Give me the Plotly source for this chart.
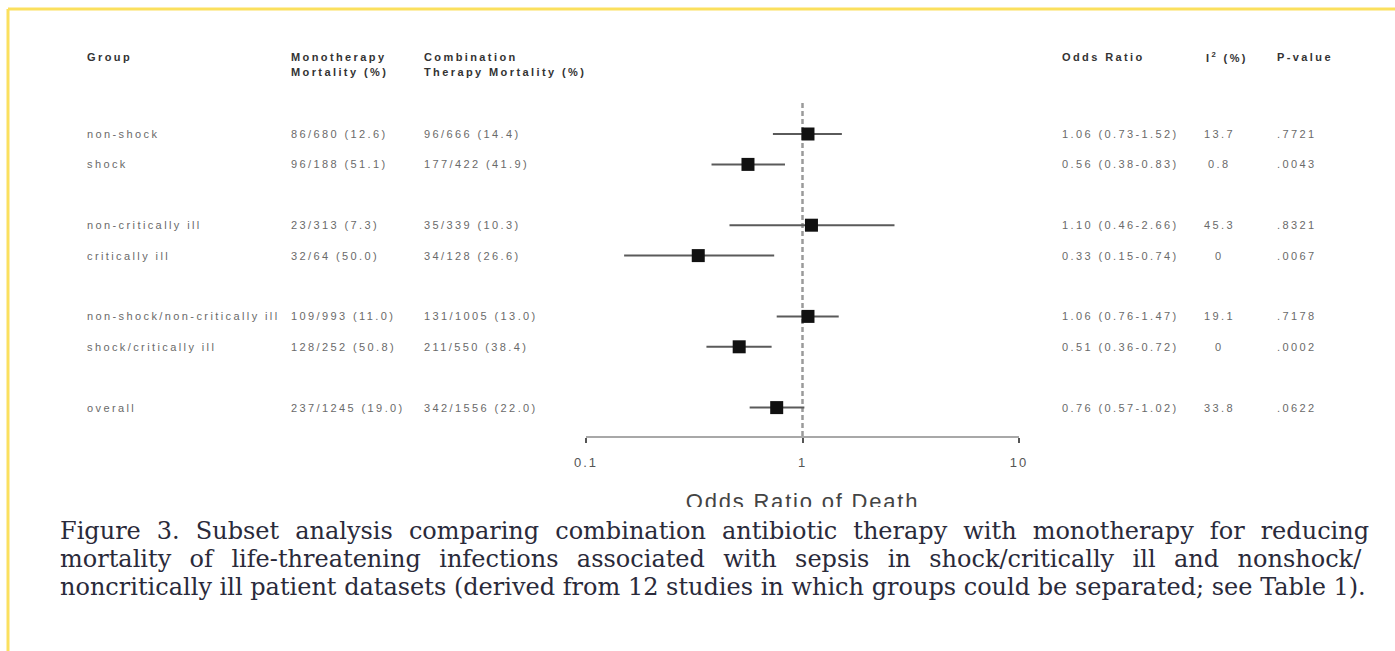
import plotly.graph_objects as go

# ---------------- data ----------------
groups = ["non-shock", "shock", "non-critically ill", "critically ill",
          "non-shock/non-critically ill", "shock/critically ill", "overall"]
row_slots = [0, 1, 3, 4, 6, 7, 9]
mono = ["86/680 (12.6)", "96/188 (51.1)", "23/313 (7.3)", "32/64 (50.0)",
        "109/993 (11.0)", "128/252 (50.8)", "237/1245 (19.0)"]
combo = ["96/666 (14.4)", "177/422 (41.9)", "35/339 (10.3)", "34/128 (26.6)",
         "131/1005 (13.0)", "211/550 (38.4)", "342/1556 (22.0)"]
odds = [1.06, 0.56, 1.10, 0.33, 1.06, 0.51, 0.76]
ci_low = [0.73, 0.38, 0.46, 0.15, 0.76, 0.36, 0.57]
ci_high = [1.52, 0.83, 2.66, 0.74, 1.47, 0.72, 1.02]
i2 = ["13.7", "0.8", "45.3", "0", "19.1", "0", "33.8"]
pvals = [".7721", ".0043", ".8321", ".0067", ".7178", ".0002", ".0622"]
tick_vals = [0.1, 1, 10]
tick_text = ["0.1", "1", "10"]
header_line1 = ["Group", "Monotherapy", "Combination", "Odds Ratio", "I<sup>2</sup> (%)", "P-value"]
header_line2 = ["", "Mortality (%)", "Therapy Mortality (%)", "", "", ""]
x_title = "Odds Ratio of Death"
caption = [
    "Figure 3. Subset analysis comparing combination antibiotic therapy with monotherapy for reducing",
    "mortality of life-threatening infections associated with sepsis in shock/critically ill and nonshock/",
    "noncritically ill patient datasets (derived from 12 studies in which groups could be separated; see Table 1).",
]

# ---------------- layout helpers ----------------
W, H = 1395, 651
ROW0, ROWSTEP = 134.0, 30.4          # pixel of slot 0, pixels per slot
PLOT_BOTTOM = 507.0                   # bottom of clip area (pixels)


def slot(py):
    return (py - ROW0) / ROWSTEP


def ls(text, sp):
    return f'<span style="letter-spacing:{sp}px">{text}</span>'


TABLE_FONT = dict(family="Liberation Sans, Arial, sans-serif", size=11, color="#6a6a6a")
HEAD_FONT = dict(family="Liberation Sans, Arial, sans-serif", size=11, color="#333333")
SP = 2.4

fig = go.Figure()

# dashed reference line at OR = 1
fig.add_trace(go.Scatter(
    x=[1, 1], y=[slot(103), slot(437)], mode="lines",
    line=dict(color="#9a9a9a", width=2.5, dash="5px,3px"),
    hoverinfo="skip", showlegend=False))

# CIs and point estimates
fig.add_trace(go.Scatter(
    x=odds, y=row_slots, mode="markers",
    marker=dict(symbol="square", size=13, color="#111111"),
    error_x=dict(type="data", symmetric=False,
                 array=[h - o for h, o in zip(ci_high, odds)],
                 arrayminus=[o - l for o, l in zip(odds, ci_low)],
                 color="#5a5a5a", thickness=2, width=0),
    showlegend=False))

# axis title (clipped at the bottom like the reference)
fig.add_trace(go.Scatter(
    x=[1], y=[slot(503)], mode="text", text=[ls(x_title, 1.8)],
    textfont=dict(family="Liberation Sans, Arial, sans-serif", size=22, color="#444444"),
    textposition="middle center", cliponaxis=True,
    hoverinfo="skip", showlegend=False))

annotations = []
head_x = [85, 289, 422, 1060, 1227, 1275]
col_x = [85, 289, 422, 1060, 1219, 1275]
col_anchor = ["left", "left", "left", "left", "center", "left"]

# headers (bold)
for txt, cx, an in zip(header_line1, head_x, col_anchor):
    annotations.append(dict(text=ls(f"<b>{txt}</b>", SP), x=cx / W, xref="paper", y=slot(57), yref="y",
                            xanchor=an, yanchor="middle",
                            showarrow=False, font=HEAD_FONT))
for txt, cx, an in zip(header_line2, head_x, col_anchor):
    if txt:
        annotations.append(dict(text=ls(f"<b>{txt}</b>", SP), x=cx / W, xref="paper", y=slot(72), yref="y",
                                xanchor="left", yanchor="middle",
                                showarrow=False, font=HEAD_FONT))

# table rows
or_text = [f"{o:.2f} ({l:.2f}-{h:.2f})" for o, l, h in zip(odds, ci_low, ci_high)]
columns = [groups, mono, combo, or_text, i2, pvals]
for col, cx, an in zip(columns, col_x, col_anchor):
    for txt, s in zip(col, row_slots):
        annotations.append(dict(text=ls(txt, SP), x=cx / W, xref="paper", y=s, yref="y",
                                xanchor=an, yanchor="middle",
                                showarrow=False, font=TABLE_FONT))

# caption (first two lines justified via word-spacing)
cap_y = [531, 559, 587]
cap_ws = [8.4, 10.8, 0]
for txt, py, ws in zip(caption, cap_y, cap_ws):
    annotations.append(dict(text=f'<span style="word-spacing:{ws}px">{txt}</span>',
                            x=58 / W, xref="paper", y=1 - py / H, yref="paper",
                            xanchor="left", yanchor="middle", showarrow=False,
                            font=dict(family="DejaVu Serif, serif", size=24, color="#2a2a3a")))

# yellow frame
shapes = [
    dict(type="line", xref="paper", yref="paper", x0=8 / W, x1=1, y0=1 - 9 / H, y1=1 - 9 / H,
         line=dict(color="#fbe05e", width=3)),
    dict(type="line", xref="paper", yref="paper", x0=8 / W, x1=8 / W, y0=0, y1=1 - 9 / H,
         line=dict(color="#fbe05e", width=3)),
]

fig.update_layout(
    width=W, height=H, autosize=False,
    margin=dict(l=0, r=0, t=0, b=0, pad=0, autoexpand=False),
    paper_bgcolor="white", plot_bgcolor="rgba(0,0,0,0)",
    annotations=annotations, shapes=shapes,
    xaxis=dict(type="log", range=[-1, 1], domain=[586 / W, 1019 / W],
               anchor="free", position=1 - 437 / H, automargin=False,
               showgrid=False, zeroline=False,
               showline=True, linecolor="#a8a8a8", linewidth=2,
               ticks="outside", ticklen=5, tickwidth=2, tickcolor="#555555",
               tickvals=tick_vals, ticktext=[ls(t, 2) for t in tick_text],
               tickfont=dict(family="Liberation Sans, Arial, sans-serif", size=13, color="#555555"),
               ticklabelstandoff=8),
    yaxis=dict(range=[slot(PLOT_BOTTOM), slot(0)], domain=[1 - PLOT_BOTTOM / H, 1],
               visible=False, showgrid=False, zeroline=False, automargin=False),
)

fig.write_html("out.html")
